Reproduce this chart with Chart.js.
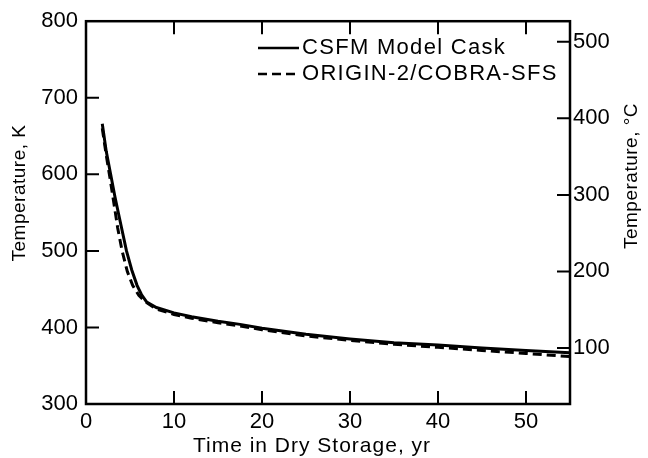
<!DOCTYPE html>
<html lang="en">
<head>
  <meta charset="UTF-8" />
  <title>Cask Temperature vs Time in Dry Storage</title>
  <script src="https://cdn.jsdelivr.net/npm/chart.js"></script>
  <style>
    html, body { margin: 0; padding: 0; background: #fff; }
    #wrap { width: 648px; height: 458px; position: relative; }
  </style>
</head>
<body>
  <div id="wrap"><canvas id="tempChart"></canvas></div>
  <script>
    // CSFM model cask (solid line)
    const csfmYears = [1.85, 2.3, 2.8, 3.3, 3.8, 4.6, 5.2, 5.8, 6.3, 6.9, 8, 10, 12, 15, 17.5, 20, 25, 30, 35, 40, 45, 50, 55];
    const csfmTempK = [666, 630, 600, 570, 543, 500, 475, 455, 443, 433, 426, 419, 414, 408, 404, 399, 391, 385, 380, 377, 373, 370, 367];

    // ORIGIN-2/COBRA-SFS (dashed line)
    const originYears = [1.85, 2.3, 2.7, 3.2, 3.6, 4.1, 4.7, 5.3, 6.0, 6.7, 8, 10, 12, 15, 17.5, 20, 25, 30, 35, 40, 45, 50, 55];
    const originTempK = [660, 625, 597, 560, 530, 500, 473, 455, 442, 434, 424, 417, 412, 406, 402, 397, 389, 383, 378, 374, 370, 366, 362];

    const seriesLabels = ['CSFM Model Cask', 'ORIGIN-2/COBRA-SFS'];
    const yearTicks = [0, 10, 20, 30, 40, 50];
    const kelvinTicks = [300, 400, 500, 600, 700, 800];
    const celsiusTicks = [100, 200, 300, 400, 500];
    const K0 = 273.15;

    const FONT = "'Liberation Sans', Arial, sans-serif";

    function toPoints(xs, ys) {
      return xs.map((x, i) => ({ x: x, y: ys[i] }));
    }

    // frame, inward tick marks, axis titles and legend
    const framePlugin = {
      id: 'frame',
      afterDatasetsDraw(chart) {
        const ctx = chart.ctx;
        const a = chart.chartArea;
        const sx = chart.scales.x, sy = chart.scales.y, sy2 = chart.scales.y2;
        const tl = 13;
        ctx.save();
        ctx.strokeStyle = '#000';
        ctx.lineWidth = 2.5;
        ctx.setLineDash([]);
        ctx.strokeRect(a.left, a.top, a.right - a.left, a.bottom - a.top);

        ctx.lineWidth = 2;
        ctx.beginPath();
        yearTicks.slice(1).forEach(v => {
          const px = sx.getPixelForValue(v);
          ctx.moveTo(px, a.bottom); ctx.lineTo(px, a.bottom - tl);
          ctx.moveTo(px, a.top); ctx.lineTo(px, a.top + tl);
        });
        kelvinTicks.slice(1, -1).forEach(v => {
          const py = sy.getPixelForValue(v);
          ctx.moveTo(a.left, py); ctx.lineTo(a.left + tl, py);
        });
        celsiusTicks.forEach(v => {
          const py = sy2.getPixelForValue(v);
          ctx.moveTo(a.right, py); ctx.lineTo(a.right - tl, py);
        });
        ctx.stroke();

        // axis titles
        ctx.fillStyle = '#000';
        ctx.textAlign = 'center';
        ctx.textBaseline = 'middle';
        ctx.font = '21px ' + FONT;
        ctx.letterSpacing = '1px';
        ctx.fillText('Time in Dry Storage, yr', 312, 446);

        ctx.font = '19px ' + FONT;
        ctx.letterSpacing = '0.5px';
        ctx.save();
        ctx.translate(20, 193);
        ctx.rotate(-Math.PI / 2);
        ctx.fillText('Temperature, K', 0, 0);
        ctx.restore();

        ctx.save();
        ctx.translate(632, 176);
        ctx.rotate(-Math.PI / 2);
        ctx.fillText('Temperature, \u00B0C', 0, 0);
        ctx.restore();

        // legend
        const rows = [48, 74];
        ctx.font = '22px ' + FONT;
        ctx.letterSpacing = '1.3px';
        ctx.textAlign = 'left';
        chart.data.datasets.forEach((ds, i) => {
          const y = rows[i];
          ctx.lineWidth = 2.5;
          ctx.setLineDash(ds.borderDash || []);
          ctx.beginPath();
          ctx.moveTo(258, y);
          ctx.lineTo(299, y);
          ctx.stroke();
          ctx.setLineDash([]);
          ctx.fillText(ds.label, 302, y);
        });
        ctx.letterSpacing = '0px';
        ctx.restore();
      }
    };

    new Chart(document.getElementById('tempChart'), {
      type: 'line',
      data: {
        datasets: [
          {
            label: seriesLabels[0],
            data: toPoints(csfmYears, csfmTempK),
            borderColor: '#000',
            borderWidth: 3,
            pointRadius: 0,
            tension: 0,
            yAxisID: 'y'
          },
          {
            label: seriesLabels[1],
            data: toPoints(originYears, originTempK),
            borderColor: '#000',
            borderWidth: 3,
            borderDash: [9, 5],
            pointRadius: 0,
            tension: 0,
            yAxisID: 'y'
          }
        ]
      },
      options: {
        responsive: true,
        maintainAspectRatio: false,
        animation: false,
        layout: { padding: { top: 19, left: 0, right: 0, bottom: 0 } },
        plugins: {
          legend: { display: false },
          tooltip: { enabled: false }
        },
        scales: {
          x: {
            type: 'linear',
            min: 0,
            max: 55,
            afterBuildTicks: s => { s.ticks = yearTicks.map(v => ({ value: v })); },
            afterFit: s => { s.height = 54; },
            grid: { display: false, drawTicks: false },
            border: { display: false },
            ticks: { color: '#000', font: { family: FONT, size: 22 }, padding: 5, maxRotation: 0 }
          },
          y: {
            position: 'left',
            min: 300,
            max: 800,
            afterBuildTicks: s => { s.ticks = kelvinTicks.map(v => ({ value: v })); },
            afterFit: s => { s.width = 86; },
            grid: { display: false, drawTicks: false },
            border: { display: false },
            ticks: { color: '#000', font: { family: FONT, size: 22 }, padding: 8 }
          },
          y2: {
            position: 'right',
            min: 300 - K0,
            max: 800 - K0,
            afterBuildTicks: s => { s.ticks = celsiusTicks.map(v => ({ value: v })); },
            afterFit: s => { s.width = 78; },
            grid: { display: false, drawTicks: false },
            border: { display: false },
            ticks: { color: '#000', font: { family: FONT, size: 22 }, padding: 3 }
          }
        }
      },
      plugins: [framePlugin]
    });
  </script>
</body>
</html>
